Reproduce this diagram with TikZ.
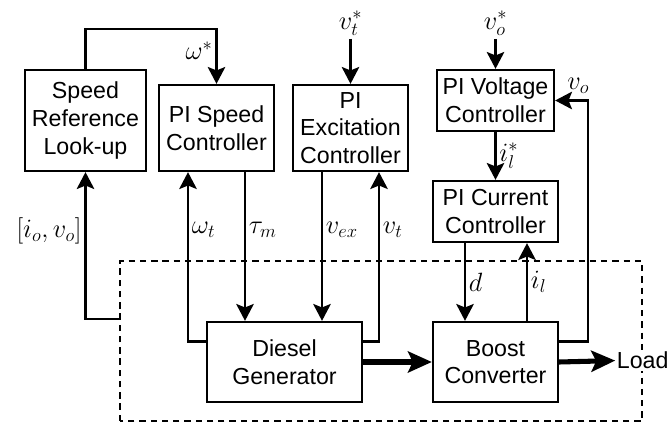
\RequirePackage{fix-cm}
\documentclass[tikz,border=0pt]{standalone}
\usepackage{amsmath}
\usepackage{fontspec}
\newfontfamily\blockfont{Liberation Sans}
\usetikzlibrary{positioning,calc,arrows.meta}

\tikzset{
  block/.style={draw, line width=1.65pt, fill=white, align=center, inner sep=0pt,
    font=\blockfont\fontsize{16.5}{19.7}\selectfont},
  wire/.style={line width=1.65pt},
  sig/.style={wire, -{Stealth[length=12pt,width=12.5pt,inset=2.5pt]}},
  power/.style={line width=3.6pt, -{Stealth[length=17pt,width=15pt,inset=3.5pt]}},
  lbl/.style={font=\fontsize{18.8}{22}\selectfont, inner sep=2pt},
}

\begin{document}
\begin{tikzpicture}
  \useasboundingbox (0,0) rectangle (16.725,10.575);

  % plant boundary
  \draw[wire, dash pattern=on 4.5pt off 3.5pt] (3.0,0.05) rectangle (16.05,4.05);

  % controllers
  \node[block, minimum width=3.025cm, minimum height=2.525cm] (speedref) at (2.1375,7.5625) {Speed\\Reference\\Look-up};
  \node[block, minimum width=2.875cm, minimum height=2.15cm] (pispeed) at (5.4125,7.375) {PI Speed\\Controller};
  \node[block, minimum width=2.875cm, minimum height=2.15cm] (piexc) at (8.7625,7.375) {PI\\Excitation\\Controller};
  \node[block, minimum width=2.925cm, minimum height=1.525cm] (pivolt) at (12.3875,8.0625) {PI Voltage\\Controller};
  \node[block, minimum width=3.125cm, minimum height=1.525cm] (picur) at (12.3875,5.2875) {PI Current\\Controller};

  % plant
  \node[block, minimum width=3.875cm, minimum height=2cm] (diesel) at (7.1125,1.525) {Diesel\\Generator};
  \node[block, minimum width=3.125cm, minimum height=2cm] (boost) at (12.3875,1.525) {Boost\\Converter};
  \node[font=\blockfont\fontsize{16.5}{19.7}\selectfont, fill=white, inner sep=1pt, anchor=west] (load) at (15.38,1.56) {Load};

  % references
  \coordinate (vtin) at ($(piexc.north)+(0,1.125)$);
  \node[lbl, anchor=south] (vtref) at (vtin) {$v_t^*$};
  \draw[sig] (vtref.south) -- (piexc.north);
  \coordinate (voin) at ($(pivolt.north)+(0,0.75)$);
  \node[lbl, anchor=south] (voref) at (voin) {$v_o^*$};
  \draw[sig] (voref.south) -- (pivolt.north);

  % speed loop
  \coordinate (wturn) at ($(pispeed.north)+(0,1.375)$);
  \draw[sig] (speedref.north) |- (wturn) -- node[lbl, left, pos=0.4] {$\omega^*$} (pispeed.north);
  \coordinate (meas) at (3.0,2.6);
  \draw[sig] (meas) -| node[lbl, left, pos=0.8] {$[i_o,v_o]$} (speedref.south);
  \coordinate (dgw) at ($(diesel.north west)!0.25!(diesel.south west)$);
  \coordinate (wt) at ($(pispeed.south)+(-0.7125,0)$);
  \draw[sig] (dgw) -| node[lbl, right, pos=0.83] {$\omega_t$} (wt);
  \coordinate (taum) at ($(pispeed.south)+(0.7125,0)$);
  \draw[sig] (taum) -- node[lbl, right, pos=0.39] {$\tau_m$} (taum |- diesel.north);

  % excitation loop
  \coordinate (vex) at ($(piexc.south)+(-0.7125,0)$);
  \draw[sig] (vex) -- node[lbl, right, pos=0.39] {$v_{ex}$} (vex |- diesel.north);
  \coordinate (dge) at ($(diesel.north east)!0.25!(diesel.south east)$);
  \coordinate (vt) at ($(piexc.south)+(0.7125,0)$);
  \draw[sig] (dge) -| node[lbl, right, pos=0.83] {$v_t$} (vt);

  % converter loops
  \coordinate (bce) at ($(boost.north east)!0.25!(boost.south east)$);
  \coordinate (voturn) at ($(pivolt.east)+(0.825,0)$);
  \draw[sig] (bce) -| (voturn) -- node[lbl, above, pos=0.3, yshift=2pt] {$v_o$} (pivolt.east);
  \draw[sig] (pivolt.south) -- node[lbl, right] {$i_l^*$} (picur.north);
  \coordinate (duty) at ($(picur.south)+(-0.7625,0)$);
  \draw[sig] (duty) -- node[lbl, right] {$d$} (duty |- boost.north);
  \coordinate (il) at ($(boost.north)+(0.7875,0)$);
  \draw[sig] (il) -- node[lbl, right] {$i_l$} (il |- picur.south);

  % power flow
  \draw[power] (diesel.east) -- (boost.west);
  \draw[power] (boost.east) -- (load.west);
\end{tikzpicture}
\end{document}
